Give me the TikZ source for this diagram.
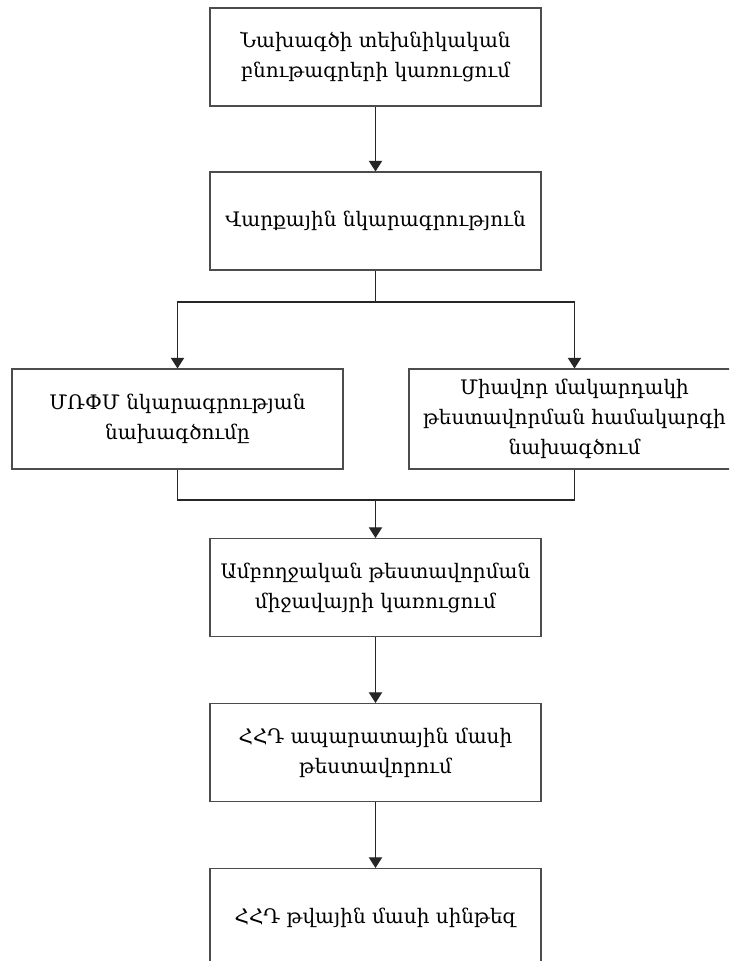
\documentclass[tikz,border=0pt]{standalone}
\usepackage{fontspec}
\setmainfont{DejaVu Serif}
\usetikzlibrary{arrows.meta}
\begin{document}
\begin{tikzpicture}[x=0.75pt,y=-0.75pt,
  every node/.style={font=\fontsize{15}{22.5}\selectfont},
  stage/.style={draw=black!70, line width=0.8pt, fill=white, align=center,
    minimum width=331*0.75pt, minimum height=98*0.75pt, inner sep=0pt},
  flow/.style={draw=black!85, line width=0.8pt},
  arr/.style={flow, -{Triangle[length=8pt,width=10pt]}}]
\useasboundingbox (0,0) rectangle (729,961);
\clip (0,0) rectangle (729,961);
\fill[white] (0,0) rectangle (729,961);

\node[stage] (spec)  at (375.5,57)    {Նախագծի տեխնիկական\\բնութագրերի կառուցում};
\node[stage] (beh)   at (375.5,221)   {Վարքային նկարագրություն};
\node[stage, minimum height=100*0.75pt] (rtl) at (177.5,419) {ՄՌՓՄ նկարագրության\\նախագծումը};
\node[stage, minimum height=100*0.75pt] (unit) at (574.5,419) {Միավոր մակարդակի\\թեստավորման համակարգի\\նախագծում};
\node[stage] (env)   at (375.5,587.5) {Ամբողջական թեստավորման\\միջավայրի կառուցում};
\node[stage] (hw)    at (375.5,752.5) {ՀՀԴ ապարատային մասի\\թեստավորում};
\node[stage] (synth) at (375.5,917.5) {ՀՀԴ թվային մասի սինթեզ};

\coordinate (split) at (375.5,302);
\coordinate (join)  at (375.5,500);

\draw[arr] (spec) -- (beh);
\draw[flow] (beh) -- (split);
\draw[arr] (split) -| (rtl);
\draw[arr] (split) -| (unit);
\draw[flow] (rtl.south) |- (join);
\draw[flow] (unit.south) |- (join);
\draw[arr] (join) -- (env);
\draw[arr] (env) -- (hw);
\draw[arr] (hw) -- (synth);
\end{tikzpicture}
\end{document}
